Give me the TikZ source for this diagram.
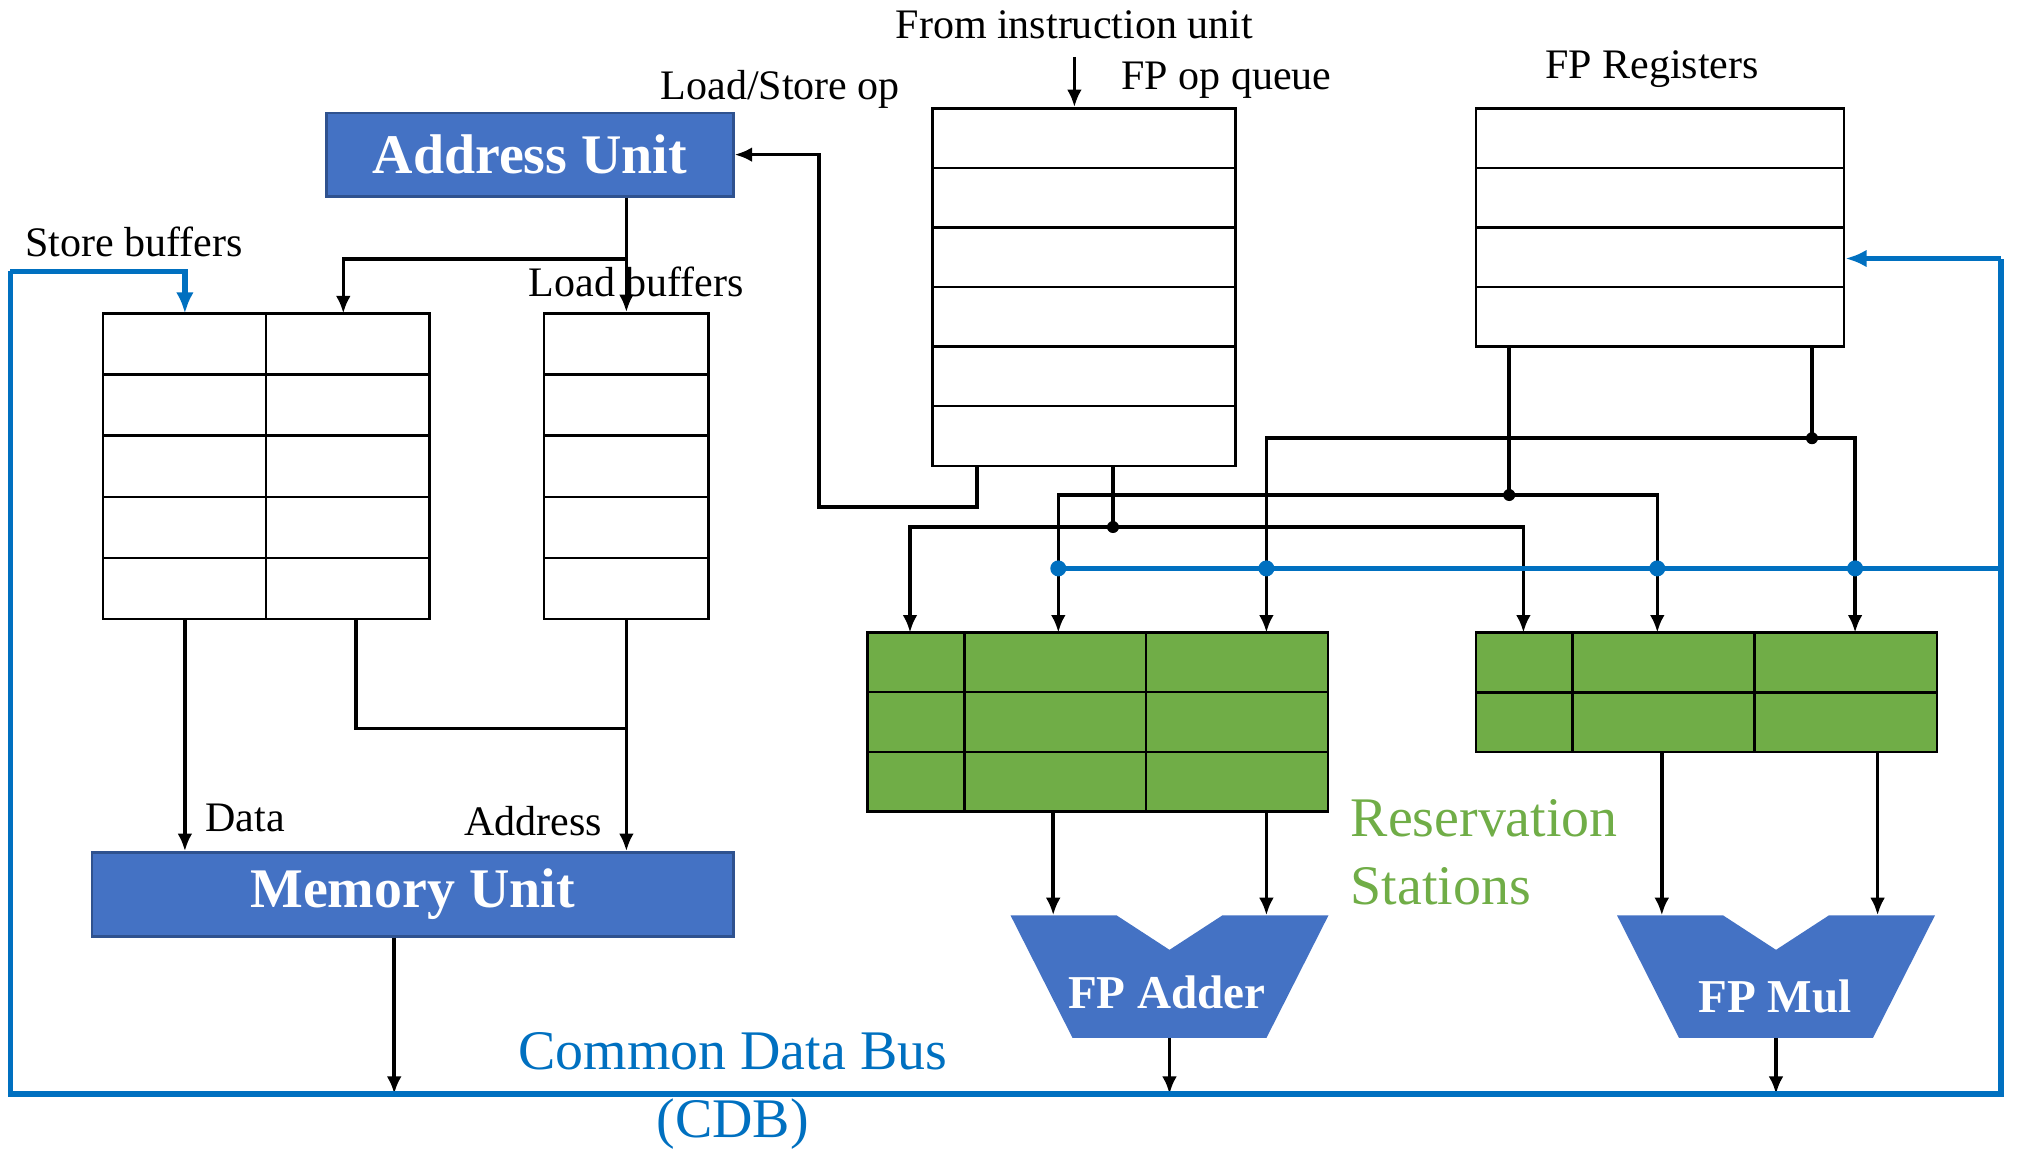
\documentclass[tikz,border=0pt]{standalone}
\usepackage{fontspec}
\setmainfont{Liberation Serif}
\usepackage{tikz}
\usetikzlibrary{arrows.meta, calc, positioning}

\definecolor{unitblue}{HTML}{4472C4}
\definecolor{unitedge}{HTML}{2F528F}
\definecolor{rsgreen}{HTML}{70AD47}
\definecolor{cdbblue}{HTML}{0070C0}

\begin{document}
\begin{tikzpicture}[x=0.01cm, y=-0.01cm]

			\tikzstyle{lbl}=[inner sep=0, font=\fontsize{11.95}{14}\selectfont]
			\tikzstyle{unit}=[draw=unitedge, fill=unitblue, line width=0.8pt, inner sep=0, text=white, font=\bfseries\fontsize{15.9}{19}\selectfont]
			\tikzstyle{alulbl}=[inner sep=0, text=white, font=\bfseries\fontsize{13.4}{16}\selectfont]
			\tikzstyle{buf}=[draw, line width=0.7pt, inner sep=0]
			\tikzstyle{rs}=[buf, fill=rsgreen]
			\tikzstyle{line}=[line width=1pt]
			\tikzstyle{arr}=[line, -{Latex[length=5pt,width=4.2pt]}]
			\tikzstyle{cdb}=[draw=cdbblue, line width=1.5pt]
			\tikzstyle{cdbarr}=[cdb, -{Latex[length=6pt,width=5pt]}]

			\useasboundingbox (0,0) rectangle (2020,1150);

			%% units
			\node (addr) at (529.8,154.6) [unit, minimum width=4.064cm, minimum height=0.833cm] {Address Unit};
			\node (mem) at (412.55,894.4) [unit, minimum width=6.409cm, minimum height=0.836cm] {Memory Unit};

			%% buffers
			\node (sb) at (266.3,466.25) [buf, minimum width=3.266cm, minimum height=3.055cm] {};
			\node (lb) at (626.4,466.25) [buf, minimum width=1.642cm, minimum height=3.055cm] {};
			\node (q) at (1084.05,287.1) [buf, minimum width=3.027cm, minimum height=3.572cm] {};
			\node (regs) at (1660.2,227.5) [buf, minimum width=3.678cm, minimum height=2.38cm] {};

			\draw [line width=0.7pt] (266,313.5) -- (266,619);
			\draw [line width=0.7pt] (103,374.6) -- (429.6,374.6) (103,435.7) -- (429.6,435.7)
				(103,496.8) -- (429.6,496.8) (103,557.9) -- (429.6,557.9);
			\draw [line width=0.7pt] (544.3,374.6) -- (708.5,374.6) (544.3,435.7) -- (708.5,435.7)
				(544.3,496.8) -- (708.5,496.8) (544.3,557.9) -- (708.5,557.9);
			\draw [line width=0.7pt] (932.7,168) -- (1235.4,168) (932.7,227.6) -- (1235.4,227.6)
				(932.7,287.1) -- (1235.4,287.1) (932.7,346.6) -- (1235.4,346.6) (932.7,406.2) -- (1235.4,406.2);
			\draw [line width=0.7pt] (1476.3,168) -- (1844.1,168) (1476.3,227.5) -- (1844.1,227.5)
				(1476.3,287) -- (1844.1,287);

			%% reservation stations
			\node (rsa) at (1097.6,722.05) [rs, minimum width=4.6cm, minimum height=1.789cm] {};
			\node (rsm) at (1706.6,692.35) [rs, minimum width=4.606cm, minimum height=1.195cm] {};

			\draw [line width=0.7pt] (964.3,632.6) -- (964.3,811.5) (1145.9,632.6) -- (1145.9,811.5)
				(867.6,692.2) -- (1327.6,692.2) (867.6,751.9) -- (1327.6,751.9);
			\draw [line width=0.7pt] (1572.3,632.6) -- (1572.3,752.1) (1754.6,632.6) -- (1754.6,752.1)
				(1476.3,692.35) -- (1936.9,692.35);

			%% FP units
			\fill [unitblue] (1010.5,915.3) -- (1116.5,915.3) -- (1169.5,949.8) -- (1222.5,915.3) -- (1328.5,915.3)
				-- (1266.5,1037.8) -- (1072.5,1037.8) -- cycle;
			\fill [unitblue] (1617,915.3) -- (1723,915.3) -- (1776,949.8) -- (1829,915.3) -- (1935,915.3)
				-- (1873,1037.8) -- (1679,1037.8) -- cycle;
			\node (addlbl) at (1167,992) [alulbl] {FP Adder};
			\node (mullbl) at (1775,996.5) [alulbl] {FP Mul};

			%% junction points
			\coordinate (iu) at (1074.4,56.8);
			\coordinate (lsq) at (977,507);
			\coordinate (lsa) at (819,507);
			\coordinate (abr) at (625.4,258.9);
			\coordinate (sbin) at (343.3,313.5);
			\coordinate (sbdata) at (184.9,313.5);
			\coordinate (sba) at (356.2,728.3);
			\coordinate (memout) at (394.2,1094);

			\coordinate (opq) at (1113,527);
			\coordinate (regl) at (1509.2,495);
			\coordinate (regr) at (1812,438.2);
			\coordinate (ra1) at (910,632.6);
			\coordinate (ra2) at (1058.3,632.6);
			\coordinate (ra3) at (1266.4,632.6);
			\coordinate (rm1) at (1523.4,632.6);
			\coordinate (rm2) at (1657.3,632.6);
			\coordinate (rm3) at (1855.1,632.6);

			\coordinate (ai1) at (1053.2,915.3);
			\coordinate (ai2) at (1266.4,915.3);
			\coordinate (mi1) at (1661.8,915.3);
			\coordinate (mi2) at (1877.6,915.3);
			\coordinate (ao) at (1169.5,1037.8);
			\coordinate (mo) at (1776,1037.8);

			\coordinate (cdbtl) at (10.3,271.4);
			\coordinate (cdbbl) at (10.3,1094);
			\coordinate (cdbbr) at (2001,1094);
			\coordinate (cdbtr) at (2001,258.5);
			\coordinate (cdbh) at (1058.3,568.4);

			%% load / store side
			\draw [arr] (iu) -- (iu |- q.north);
			\draw [arr] (lsq |- q.south) -- (lsq) -- (lsa) |- (addr.east);
			\draw [arr] (addr.south -| lb.north) -- (lb.north);
			\draw [arr] (lb.north |- abr) -| (sbin);
			\draw [arr] (sbdata |- sb.south) -- (sbdata |- mem.north);
			\draw [line] (sba |- sb.south) -- (sba) -- (sba -| lb.south);
			\draw [arr] (lb.south) -- (lb.south |- mem.north);
			\draw [arr] (memout |- mem.south) -- (memout);

			%% operands to reservation stations
			\draw [line] (opq |- q.south) -- (opq);
			\draw [line] (regl |- regs.south) -- (regl);
			\draw [line] (regr |- regs.south) -- (regr);
			\draw [arr] (opq) -| (ra1);
			\draw [arr] (opq) -| (rm1);
			\draw [arr] (regl) -| (ra2);
			\draw [arr] (regl) -| (rm2);
			\draw [arr] (regr) -| (ra3);
			\draw [arr] (regr) -| (rm3);
			\fill (opq) circle (0.6mm);
			\fill (regl) circle (0.6mm);
			\fill (regr) circle (0.6mm);

			%% reservation stations to FP units
			\draw [arr] (ai1 |- rsa.south) -- (ai1);
			\draw [arr] (ai2 |- rsa.south) -- (ai2);
			\draw [arr] (mi1 |- rsm.south) -- (mi1);
			\draw [arr] (mi2 |- rsm.south) -- (mi2);
			\draw [arr] (ao) -- (ao |- cdbbl);
			\draw [arr] (mo) -- (mo |- cdbbl);

			%% common data bus
			\draw [cdb] (cdbtl) -- (cdbbl) -- (cdbbr) -- (cdbtr);
			\draw [cdbarr] (cdbtr) -- (cdbtr -| regs.east);
			\draw [cdbarr] (cdbtl) -| (sbdata);
			\draw [cdb] (cdbh) -- (cdbh -| cdbbr);
			\fill [cdbblue] (cdbh) circle (0.8mm);
			\fill [cdbblue] (ra3 |- cdbh) circle (0.8mm);
			\fill [cdbblue] (rm2 |- cdbh) circle (0.8mm);
			\fill [cdbblue] (rm3 |- cdbh) circle (0.8mm);

			%% labels
			\node (fromiu) at (895,38) [lbl, anchor=base west] {From instruction unit};
			\node (lsop) at (660,99) [lbl, anchor=base west] {Load/Store op};
			\node (fpq) at (1120.8,89.8) [lbl, anchor=base west] {FP op queue};
			\node (fpreg) at (1544.6,78.8) [lbl, anchor=base west] {FP Registers};
			\node (sbuf) at (24.5,256.7) [lbl, anchor=base west] {Store buffers};
			\node (lbuf) at (528,296.3) [lbl, anchor=base west] {Load buffers};
			\node (data) at (204.8,831.7) [lbl, anchor=base west] {Data};
			\node (address) at (463.8,835.5) [lbl, anchor=base west] {Address};
			\node (rslbl) at (1350,799) [anchor=north west, inner sep=0, align=left, text=rsgreen,
				font=\fontsize{15.9}{19.2}\selectfont] {Reservation\\Stations};
			\node (cdblbl) at (732.7,1032) [anchor=north, inner sep=0, align=center, text=cdbblue,
				font=\fontsize{15.9}{19.2}\selectfont] {Common Data Bus\\(CDB)};

\end{tikzpicture}
\end{document}
